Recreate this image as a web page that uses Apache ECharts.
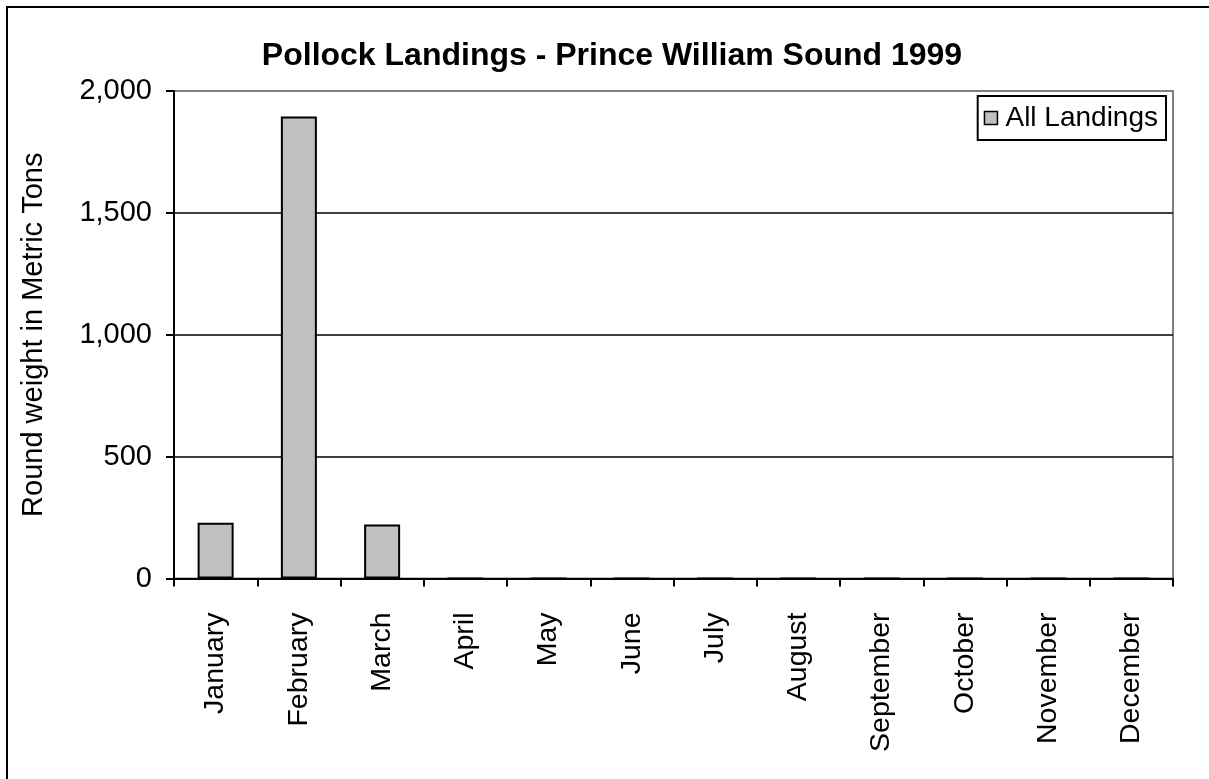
<!DOCTYPE html>
<html>
<head>
<meta charset="utf-8">
<script src="https://cdn.jsdelivr.net/npm/echarts@6/dist/echarts.min.js"></script>
<style>
html,body{margin:0;padding:0;background:#fff;}
#chart{width:1209px;height:779px;}
</style>
</head>
<body>
<div id="chart"></div>
<script>
var months = ['January','February','March','April','May','June','July','August','September','October','November','December'];
var landings = [229, 1895, 222, 0, 0, 0, 0, 0, 0, 0, 0, 0];
var yTicks = [0, 500, 1000, 1500, 2000];
var titleText = 'Pollock Landings - Prince William Sound 1999';
var yAxisName = 'Round weight in Metric Tons';
var seriesName = 'All Landings';

var FONT = '"Liberation Sans", Arial, sans-serif';
var chart = echarts.init(document.getElementById('chart'), null, {renderer: 'canvas'});
chart.setOption({
  backgroundColor: '#fff',
  animation: false,
  textStyle: {fontFamily: FONT},
  graphic: [{
    type: 'rect', silent: true, z: -1,
    shape: {x: 7, y: 7, width: 1230, height: 800},
    style: {fill: 'none', stroke: '#000', lineWidth: 2}
  }],
  title: {
    text: titleText, left: 612, textAlign: 'center', top: 40, padding: 0,
    textStyle: {fontFamily: FONT, fontSize: 32, fontWeight: 'bold', color: '#000'}
  },
  legend: {
    data: [seriesName], right: 43, top: 96,
    orient: 'vertical',
    padding: [8, 8, 8, 6],
    borderColor: '#000', borderWidth: 2,
    icon: 'rect',
    itemWidth: 13, itemHeight: 13, itemGap: 0,
    textStyle: {fontFamily: FONT, fontSize: 28, color: '#000', padding: [0, 0, 0, 3]},
    itemStyle: {borderColor: '#000', borderWidth: 1.5}
  },
  grid: {left: 174, top: 91, right: 36, bottom: 200.5, show: true, borderColor: '#808080', borderWidth: 2, backgroundColor: 'transparent'},
  xAxis: {
    type: 'category', data: months, boundaryGap: true,
    axisLine: {lineStyle: {color: '#000', width: 2}},
    axisTick: {show: true, length: 8, lineStyle: {color: '#000', width: 2}},
    axisLabel: {rotate: 90, margin: 34, fontSize: 28.5, color: '#000', fontFamily: FONT, interval: 0}
  },
  yAxis: {
    type: 'value', min: 0, max: 2000, interval: 500,
    name: yAxisName, nameLocation: 'middle', nameGap: 126,
    nameTextStyle: {fontSize: 29, color: '#000', fontFamily: FONT},
    axisLine: {show: true, lineStyle: {color: '#000', width: 2}},
    axisTick: {show: true, length: 8, lineStyle: {color: '#000', width: 2}},
    axisLabel: {margin: 22, fontSize: 29, color: '#000', fontFamily: FONT,
      formatter: function (v) { return v.toLocaleString('en-US'); }},
    splitLine: {show: true, lineStyle: {color: ['#000', '#000', '#000', '#000', '#808080'], width: 1.5}}
  },
  series: [{
    name: seriesName, type: 'bar', data: landings, barWidth: 36,
    itemStyle: {color: '#c0c0c0', borderColor: '#000', borderWidth: 2}
  }]
});
</script>
</body>
</html>
